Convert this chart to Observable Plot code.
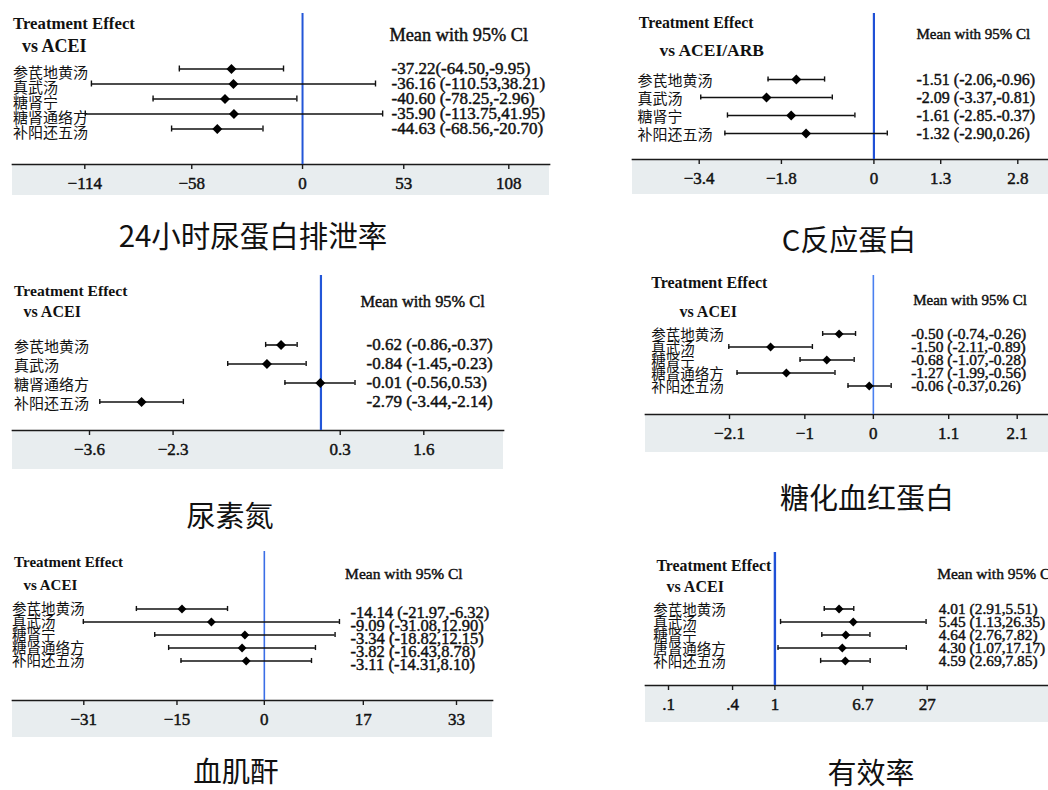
<!DOCTYPE html>
<html>
<head>
<meta charset="utf-8">
<script src="https://cdn.jsdelivr.net/npm/d3@7"></script>
<script src="https://cdn.jsdelivr.net/npm/@observablehq/plot@0.6"></script>
<style>
  body { margin: 0; background: #fff; }
  #fig { position: relative; width: 1048px; height: 790px; overflow: hidden; background: #fff; }
  .panel { position: absolute; }
  .title { position: absolute; transform: translate(-50%, -50%); font-family: "Noto Sans CJK SC", sans-serif; color: #111; white-space: nowrap; line-height: 1; }
</style>
</head>
<body>
<div id="fig"></div>
<script>
// ---------------- DATA ----------------
// Panel 1: 24小时尿蛋白排泄率
const p1Title = "24小时尿蛋白排泄率";
const p1Vs = "vs ACEI";
const p1Names = ["参芪地黄汤", "真武汤", "糖肾宁", "糖肾通络方", "补阳还五汤"];
const p1Mean = [-37.22, -36.16, -40.60, -35.90, -44.63];
const p1Lo = [-64.50, -110.53, -78.25, -113.75, -68.56];
const p1Hi = [-9.95, 38.21, -2.96, 41.95, -20.70];
const p1Text = ["-37.22(-64.50,-9.95)", "-36.16 (-110.53,38.21)", "-40.60 (-78.25,-2.96)", "-35.90 (-113.75,41.95)", "-44.63 (-68.56,-20.70)"];
const p1Ticks = [-114, -58, 0, 53, 108];
const p1TickLabels = ["−114", "−58", "0", "53", "108"];

// Panel 2: C反应蛋白
const p2Title = "C反应蛋白";
const p2Vs = "vs ACEI/ARB";
const p2Names = ["参芪地黄汤", "真武汤", "糖肾宁", "补阳还五汤"];
const p2Mean = [-1.51, -2.09, -1.61, -1.32];
const p2Lo = [-2.06, -3.37, -2.85, -2.90];
const p2Hi = [-0.96, -0.81, -0.37, 0.26];
const p2Text = ["-1.51 (-2.06,-0.96)", "-2.09 (-3.37,-0.81)", "-1.61 (-2.85.-0.37)", "-1.32 (-2.90,0.26)"];
const p2Ticks = [-3.4, -1.8, 0, 1.3, 2.8];
const p2TickLabels = ["−3.4", "−1.8", "0", "1.3", "2.8"];

// Panel 3: 尿素氮
const p3Title = "尿素氮";
const p3Vs = "vs ACEI";
const p3Names = ["参芪地黄汤", "真武汤", "糖肾通络方", "补阳还五汤"];
const p3Mean = [-0.62, -0.84, -0.01, -2.79];
const p3Lo = [-0.86, -1.45, -0.56, -3.44];
const p3Hi = [-0.37, -0.23, 0.53, -2.14];
const p3Text = ["-0.62 (-0.86,-0.37)", "-0.84 (-1.45,-0.23)", "-0.01 (-0.56,0.53)", "-2.79 (-3.44,-2.14)"];
const p3Ticks = [-3.6, -2.3, 0.3, 1.6];
const p3TickLabels = ["−3.6", "−2.3", "0.3", "1.6"];

// Panel 4: 糖化血红蛋白
const p4Title = "糖化血红蛋白";
const p4Vs = "vs ACEI";
const p4Names = ["参芪地黄汤", "真武汤", "糖肾宁", "糖肾通络方", "补阳还五汤"];
const p4Mean = [-0.50, -1.50, -0.68, -1.27, -0.06];
const p4Lo = [-0.74, -2.11, -1.07, -1.99, -0.37];
const p4Hi = [-0.26, -0.89, -0.28, -0.56, 0.26];
const p4Text = ["-0.50 (-0.74,-0.26)", "-1.50 (-2.11,-0.89)", "-0.68 (-1.07,-0.28)", "-1.27 (-1.99,-0.56)", "-0.06 (-0.37,0.26)"];
const p4Ticks = [-2.1, -1, 0, 1.1, 2.1];
const p4TickLabels = ["−2.1", "−1", "0", "1.1", "2.1"];

// Panel 5: 血肌酐
const p5Title = "血肌酐";
const p5Vs = "vs ACEI";
const p5Names = ["参芪地黄汤", "真武汤", "糖肾宁", "糖肾通络方", "补阳还五汤"];
const p5Mean = [-14.14, -9.09, -3.34, -3.82, -3.11];
const p5Lo = [-21.97, -31.08, -18.82, -16.43, -14.31];
const p5Hi = [-6.32, 12.90, 12.15, 8.78, 8.10];
const p5Text = ["-14.14 (-21.97,-6.32)", "-9.09 (-31.08,12.90)", "-3.34 (-18.82,12.15)", "-3.82 (-16.43,8.78)", "-3.11 (-14.31,8.10)"];
const p5Ticks = [-31, -15, 0, 17, 33];
const p5TickLabels = ["−31", "−15", "0", "17", "33"];

// Panel 6: 有效率 (log scale)
const p6Title = "有效率";
const p6Vs = "vs ACEI";
const p6Names = ["参芪地黄汤", "真武汤", "糖肾宁", "唐肾通络方", "补阳还五汤"];
const p6Mean = [4.01, 5.45, 4.64, 4.30, 4.59];
const p6Lo = [2.91, 1.13, 2.76, 1.07, 2.69];
const p6Hi = [5.51, 26.35, 7.82, 17.17, 7.85];
const p6Text = ["4.01 (2.91,5.51)", "5.45 (1.13,26.35)", "4.64 (2.76,7.82)", "4.30 (1.07,17.17)", "4.59 (2.69,7.85)"];
const p6Ticks = [0.1, 0.4, 1, 6.7, 27];
const p6TickLabels = [".1", ".4", "1", "6.7", "27"];

const headerText = "Treatment Effect";
const meanHeader = "Mean with 95% Cl";

// ---------------- LAYOUT ----------------
const FONT = "'Liberation Serif', 'Times New Roman', 'Noto Sans CJK SC', serif";
const CJK = "'Noto Sans CJK SC', sans-serif";
const BAND = "#e8edef";
const INK = "#111";
const HALO = 0.45; // thin same-colour outline to mimic the heavier scanned type

const panels = [
  { title: p1Title, vs: p1Vs, names: p1Names, mean: p1Mean, lo: p1Lo, hi: p1Hi, text: p1Text, ticks: p1Ticks, tickLabels: p1TickLabels, ref: 0, log: false,
    L: { left: 12, top: 0, width: 537, height: 195, mt: 13, mb: 31, xRange: [72.3, 496.3], yRange: [60.8, 135.8],
         te: { dx: 0.5, y: 23, fs: 16.8 }, vs: { dx: 9.4, y: 46, fs: 18 }, mean: { dx: 377, y: 35, fs: 18.3 },
         labelDx: 0.5, labelDy: 4, labelFs: 15, valDx: 379, valDy: 0, valFs: 17, r: 4.5, blue: "#2356d8", blueW: 2,
         tx: 253, ty: 235, tfs: 29.5 } },
  { title: p2Title, vs: p2Vs, names: p2Names, mean: p2Mean, lo: p2Lo, hi: p2Hi, text: p2Text, ticks: p2Ticks, tickLabels: p2TickLabels, ref: 0, log: false,
    L: { left: 632, top: 0, width: 416, height: 194, mt: 13, mb: 35, xRange: [66.7, 385.3], yRange: [68.3, 143.4],
         te: { dx: 6.3, y: 22, fs: 15.8 }, vs: { dx: 27, y: 50, fs: 17.5 }, mean: { dx: 284, y: 34, fs: 15 },
         labelDx: 5, labelDy: 1.5, labelFs: 15, valDx: 284, valDy: 0, valFs: 16, r: 4.5, blue: "#1f50d6", blueW: 2.2,
         tx: 849, ty: 238, tfs: 29 } },
  { title: p3Title, vs: p3Vs, names: p3Names, mean: p3Mean, lo: p3Lo, hi: p3Hi, text: p3Text, ticks: p3Ticks, tickLabels: p3TickLabels, ref: 0, log: false,
    L: { left: 12, top: 260, width: 491, height: 209, mt: 15, mb: 39, xRange: [77, 411.3], yRange: [73.4, 152.6],
         te: { dx: 1.6, y: 30, fs: 15.6 }, vs: { dx: 11, y: 51, fs: 16 }, mean: { dx: 348, y: 41, fs: 16.4 },
         labelDx: 1.6, labelDy: 2, labelFs: 15, valDx: 354, valDy: 0, valFs: 17, r: 4.5, blue: "#2356d8", blueW: 2.2,
         tx: 230, ty: 514, tfs: 29 } },
  { title: p4Title, vs: p4Vs, names: p4Names, mean: p4Mean, lo: p4Lo, hi: p4Hi, text: p4Text, ticks: p4Ticks, tickLabels: p4TickLabels, ref: 0, log: false,
    L: { left: 645, top: 260, width: 403, height: 192, mt: 15, mb: 38, xRange: [84, 371.7], yRange: [64.7, 134.7],
         te: { dx: 5.7, y: 22.7, fs: 16 }, vs: { dx: 34, y: 51.7, fs: 16 }, mean: { dx: 267.7, y: 39.3, fs: 15 },
         labelDx: 5.7, labelDy: 1, labelFs: 14.5, valDx: 265.7, valDy: 0, valFs: 15.5, r: 4, blue: "#4a80f0", blueW: 1.6,
         tx: 867, ty: 496, tfs: 29 } },
  { title: p5Title, vs: p5Vs, names: p5Names, mean: p5Mean, lo: p5Lo, hi: p5Hi, text: p5Text, ticks: p5Ticks, tickLabels: p5TickLabels, ref: 0, log: false,
    L: { left: 12, top: 530, width: 480, height: 207, mt: 21, mb: 37, xRange: [71.3, 444], yRange: [69.75, 139.25],
         te: { dx: 1.6, y: 32, fs: 15 }, vs: { dx: 11, y: 55, fs: 15 }, mean: { dx: 332.6, y: 44, fs: 15.5 },
         labelDx: -0.6, labelDy: 0, labelFs: 14.5, valDx: 338, valDy: 3.5, valFs: 16.5, r: 4, blue: "#3a6ee6", blueW: 1.6,
         tx: 236, ty: 770, tfs: 28.5 } },
  { title: p6Title, vs: p6Vs, names: p6Names, mean: p6Mean, lo: p6Lo, hi: p6Hi, text: p6Text, ticks: p6Ticks, tickLabels: p6TickLabels, ref: 1, log: true,
    L: { left: 645, top: 530, width: 403, height: 192, mt: 22, mb: 37, xRange: [23, 281.7], yRange: [69.8, 138.6],
         te: { dx: 11, y: 35, fs: 15.8 }, vs: { dx: 21, y: 56, fs: 16 }, mean: { dx: 291.7, y: 43.3, fs: 15.5 },
         labelDx: 7.7, labelDy: 1, labelFs: 14.5, valDx: 293.3, valDy: 0, valFs: 15.4, r: 4, blue: "#1f50d6", blueW: 2.4,
         tx: 871, ty: 771, tfs: 29 } }
];

const fig = document.getElementById("fig");

for (const p of panels) {
  const L = p.L;
  const rows = p.names.map((name, i) => ({ name, mean: p.mean[i], lo: p.lo[i], hi: p.hi[i], ci: p.text[i] }));
  const tickRows = p.ticks.map((v, i) => ({ v, label: p.tickLabels[i] }));
  const spacing = (L.yRange[1] - L.yRange[0]) / rows.length;
  const inset = Math.max(0, (spacing - 6) / 2);
  const bandTop = L.height - L.mb;
  const halo = { stroke: INK, strokeWidth: HALO };

  const chart = Plot.plot({
    width: L.width,
    height: L.height,
    marginLeft: 0, marginRight: 0, marginTop: L.mt, marginBottom: L.mb,
    style: {
      fontFamily: FONT,
      fontSize: "15px",
      color: INK,
      background: `linear-gradient(to bottom, #ffffff 0px, #ffffff ${bandTop}px, ${BAND} ${bandTop}px, ${BAND} 100%)`,
      overflow: "visible",
      maxWidth: "none"
    },
    x: { type: p.log ? "log" : "linear", domain: [p.ticks[0], p.ticks[p.ticks.length - 1]], range: L.xRange },
    y: { type: "band", domain: p.names, range: L.yRange, padding: 0, axis: null },
    marks: [
      Plot.frame({ anchor: "bottom", stroke: "#1a1a1a", strokeWidth: 1.7 }),
      Plot.ruleX([p.ref], { stroke: L.blue, strokeWidth: L.blueW }),
      Plot.ruleY(rows, { y: "name", x1: "lo", x2: "hi", stroke: INK, strokeWidth: 1.6 }),
      Plot.tickX(rows, { x: "lo", y: "name", insetTop: inset, insetBottom: inset, stroke: INK, strokeWidth: 1.4 }),
      Plot.tickX(rows, { x: "hi", y: "name", insetTop: inset, insetBottom: inset, stroke: INK, strokeWidth: 1.4 }),
      Plot.dot(rows, { x: "mean", y: "name", symbol: "diamond2", r: L.r, fill: "#000", stroke: "none" }),
      Plot.text(rows, { y: "name", text: "name", frameAnchor: "left", textAnchor: "start", dx: L.labelDx, dy: L.labelDy, fontSize: L.labelFs, fontFamily: CJK, fill: INK }),
      Plot.text(rows, { y: "name", text: "ci", frameAnchor: "left", textAnchor: "start", dx: L.valDx, dy: L.valDy, fontSize: L.valFs, fill: INK, ...halo }),
      Plot.text([headerText], { text: d => d, frameAnchor: "top-left", textAnchor: "start", lineAnchor: "middle", dx: L.te.dx, dy: L.te.y - L.mt, fontSize: L.te.fs, fontWeight: "bold", fill: INK }),
      Plot.text([p.vs], { text: d => d, frameAnchor: "top-left", textAnchor: "start", lineAnchor: "middle", dx: L.vs.dx, dy: L.vs.y - L.mt, fontSize: L.vs.fs, fontWeight: "bold", fill: INK }),
      Plot.text([meanHeader], { text: d => d, frameAnchor: "top-left", textAnchor: "start", lineAnchor: "middle", dx: L.mean.dx, dy: L.mean.y - L.mt, fontSize: L.mean.fs, fill: INK, ...halo }),
      Plot.axisX({ ticks: p.ticks, tickFormat: () => "", tickSize: 5, label: null, stroke: "#1a1a1a", strokeWidth: 1.4 }),
      Plot.text(tickRows, { x: "v", text: "label", frameAnchor: "bottom", lineAnchor: "top", dy: 12, fontSize: 17, fill: INK, ...halo })
    ]
  });

  const holder = document.createElement("div");
  holder.className = "panel";
  holder.style.left = L.left + "px";
  holder.style.top = L.top + "px";
  holder.appendChild(chart);
  fig.appendChild(holder);

  const t = document.createElement("div");
  t.className = "title";
  t.style.left = L.tx + "px";
  t.style.top = L.ty + "px";
  t.style.fontSize = L.tfs + "px";
  t.textContent = p.title;
  fig.appendChild(t);
}
</script>
</body>
</html>
